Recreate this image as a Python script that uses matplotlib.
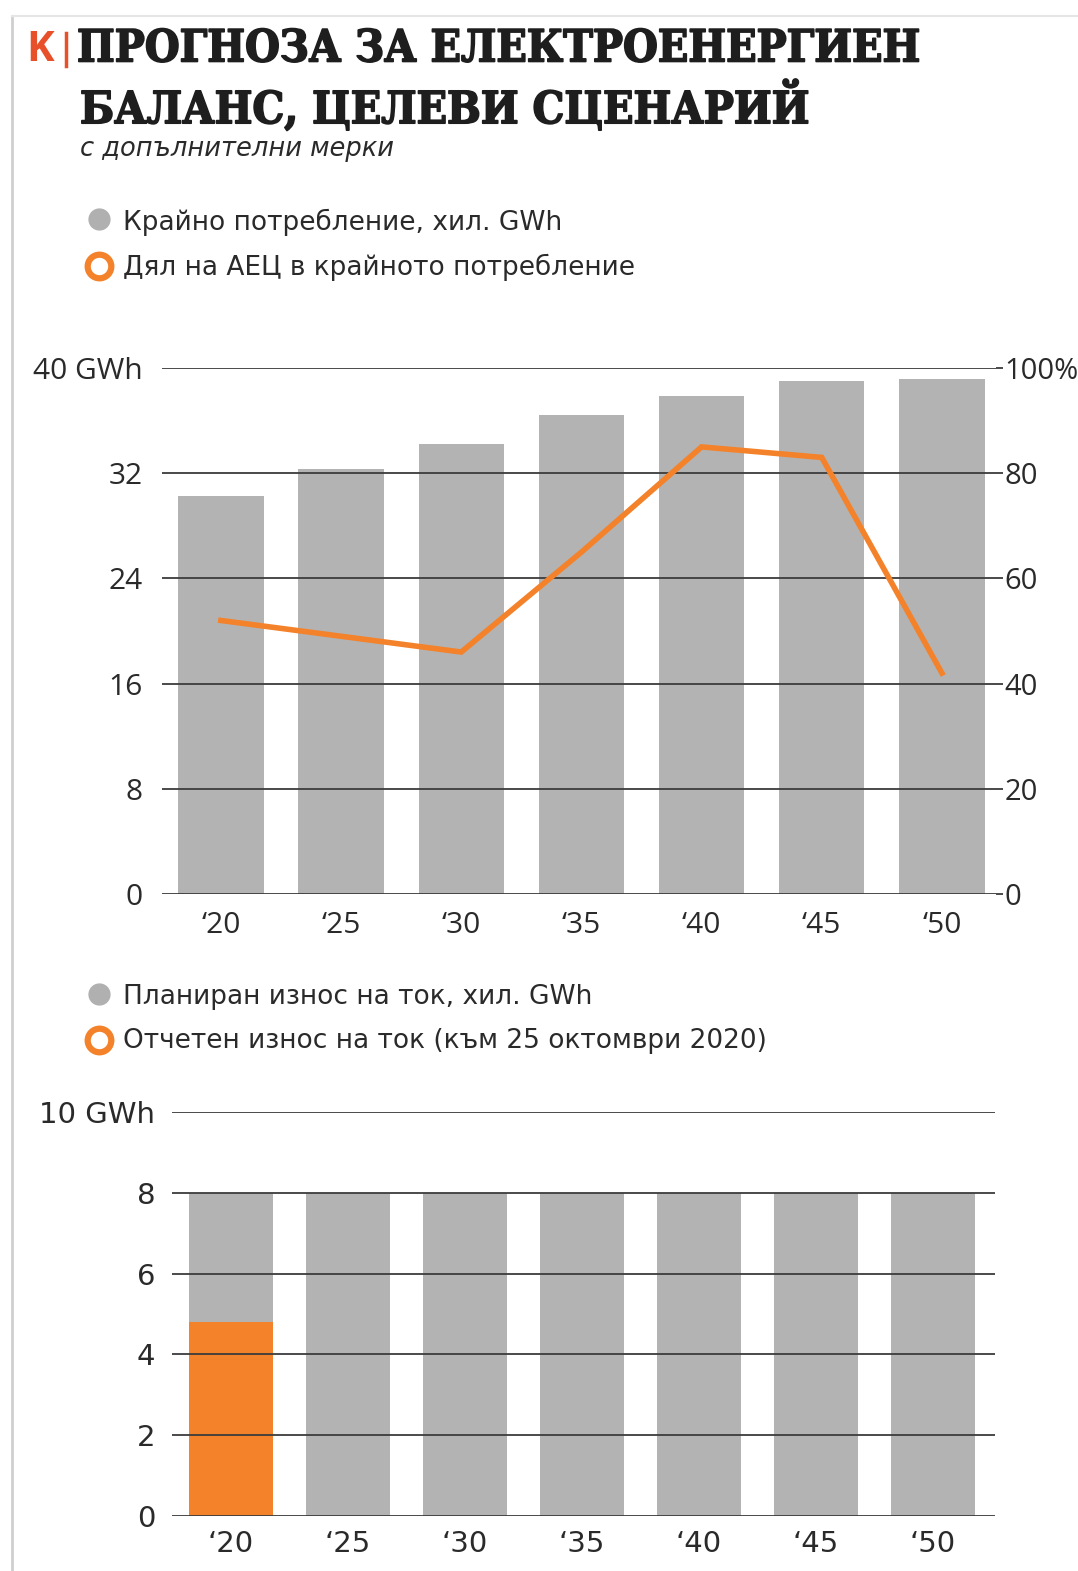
import numpy as np
import matplotlib
matplotlib.use('Agg')
import matplotlib.pyplot as plt
import matplotlib.patheffects as pe

# Data
years = ["‘20", "‘25", "‘30", "‘35", "‘40", "‘45", "‘50"]
consumption = [30.3, 32.3, 34.2, 36.4, 37.9, 39.0, 39.2]   # хил. GWh
npp_share = [52, 49, 46, 65, 85, 83, 42]                   # %
planned_cut = [8, 8, 8, 8, 8, 8, 8]                        # хил. GWh
reported_cut = [4.8]                                       # 2020

left_ticks = [0, 8, 16, 24, 32, 40]
left_labels = ["0", "8", "16", "24", "32", "40 GWh"]
right_ticks = [0, 20, 40, 60, 80, 100]
right_labels = ["0", "20", "40", "60", "80", "100%"]
low_ticks = [0, 2, 4, 6, 8, 10]
low_labels = ["0", "2", "4", "6", "8", "10 GWh"]

GRAY = '#b3b3b3'
ORANGE = '#f4822a'
GRID = '#3c3c3c'
TXT = '#2a2a2a'
NARROW = ['Liberation Sans Narrow', 'DejaVu Sans']
SANS = ['Open Sans', 'DejaVu Sans']

W, H = 1078, 1571
fig = plt.figure(figsize=(W / 100, H / 100), dpi=100)
fig.patch.set_facecolor('white')

# overlay in pixel coordinates for title, legends and frame
ov = fig.add_axes([0, 0, 1, 1])
ov.set_xlim(0, W)
ov.set_ylim(H, 0)
ov.axis('off')
ov.plot([12, 12], [18, H], color='#cfcfcf', lw=2)
ov.plot([12, W], [16, 16], color='#e6e6e6', lw=1.5)

ov.text(26, 50, "K", color='#e8502a', fontsize=30, fontweight='bold',
        family=SANS, va='center', ha='left')
ov.plot([66, 66], [33, 66], color='#e8502a', lw=2.5)
thick = [pe.withStroke(linewidth=1.2, foreground='#1e1e1e')]
ov.text(77, 49, "ПРОГНОЗА ЗА ЕЛЕКТРОЕНЕРГИЕН", color='#1e1e1e',
        fontsize=32, family='DejaVu Serif', weight='bold',
        fontstretch='condensed', va='center', ha='left', path_effects=thick)
ov.text(80, 106, "БАЛАНС, ЦЕЛЕВИ СЦЕНАРИЙ", color='#1e1e1e',
        fontsize=32, family='DejaVu Serif', weight='bold',
        fontstretch='condensed', va='center', ha='left', path_effects=thick)
ov.text(80, 149, "с допълнителни мерки", color=TXT, fontsize=18.5,
        style='italic', family=NARROW, va='center', ha='left')

legend_rows = [
    (221, 'fill', "Крайно потребление, хил. GWh"),
    (266, 'ring', "Дял на АЕЦ в крайното потребление"),
    (996, 'fill', "Планиран износ на ток, хил. GWh"),
    (1040, 'ring', "Отчетен износ на ток (към 25 октомври 2020)"),
]
for y, kind, label in legend_rows:
    if kind == 'fill':
        ov.plot(99, y - 2, 'o', ms=15, color='#b0b0b0', mec='#b0b0b0')
    else:
        ov.plot(99, y, 'o', ms=17, mfc='white', mec=ORANGE, mew=4.5)
    ov.text(123, y + 1, label, color=TXT, fontsize=19, family=NARROW,
            va='center', ha='left')

x = np.arange(len(years))

# Top chart: consumption bars + NPP share line
ax = fig.add_axes([162 / W, 1 - 894 / H, 834 / W, 526 / H])
ax.bar(x, consumption, width=0.71, color=GRAY, zorder=1)
ax.set_xlim(-0.49, 6.45)
ax.set_ylim(0, 40)
ax.set_yticks(left_ticks)
ax.set_yticklabels(left_labels)
ax.yaxis.grid(True, color=GRID, lw=1.3, zorder=2)
ax.set_axisbelow(False)
ax.set_xticks(x)
ax.set_xticklabels(years)
for s in ax.spines.values():
    s.set_visible(False)
ax.tick_params(axis='y', length=0, pad=14, labelsize=21.5, colors=TXT)
ax.tick_params(axis='x', length=0, pad=12, labelsize=21.5, colors=TXT)
for t in ax.get_yticklabels() + ax.get_xticklabels():
    t.set_family(SANS)

ax2 = ax.twinx()
ax2.plot(x, npp_share, color=ORANGE, lw=4, solid_joinstyle='miter', zorder=5)
ax2.set_ylim(0, 100)
ax2.set_yticks(right_ticks)
ax2.set_yticklabels(right_labels)
for s in ax2.spines.values():
    s.set_visible(False)
ax2.tick_params(axis='y', length=5, width=1.3, color=GRID, pad=1,
                labelsize=21, colors=TXT)
for t in ax2.get_yticklabels():
    t.set_family(SANS)
    t.set_color(TXT)

# Bottom chart: planned vs reported cut
bx = fig.add_axes([172 / W, 1 - 1516 / H, 823 / W, 404 / H])
bx.bar(x, planned_cut, width=0.72, color=GRAY, zorder=1)
bx.bar(x[:len(reported_cut)], reported_cut, width=0.72, color=ORANGE, zorder=1)
bx.set_xlim(-0.504, 6.53)
bx.set_ylim(0, 10)
bx.set_yticks(low_ticks)
bx.set_yticklabels(low_labels)
bx.yaxis.grid(True, color=GRID, lw=1.3, zorder=2)
bx.set_axisbelow(False)
bx.set_xticks(x)
bx.set_xticklabels(years)
for s in bx.spines.values():
    s.set_visible(False)
bx.tick_params(axis='y', length=0, pad=12, labelsize=21, colors=TXT)
bx.tick_params(axis='x', length=0, pad=10, labelsize=21, colors=TXT)
for t in bx.get_yticklabels() + bx.get_xticklabels():
    t.set_family(NARROW)

fig.savefig("out.png", dpi=100, facecolor='white')
